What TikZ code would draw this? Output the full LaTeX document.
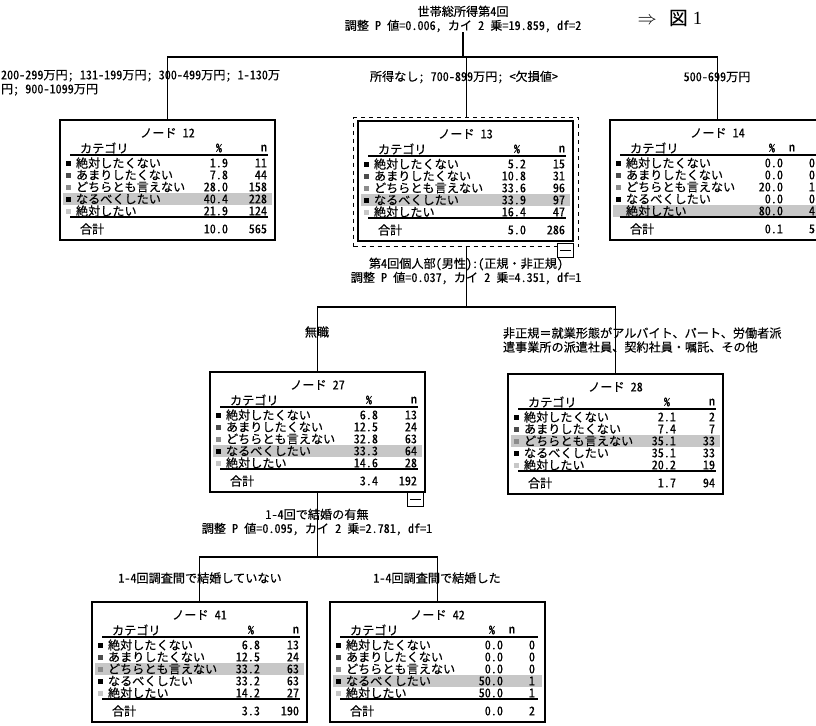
\documentclass[tikz,border=0pt]{standalone}
\usepackage{fontspec}
\setmainfont{Noto Sans CJK JP}[RawFeature=+hwid, FakeBold=0.3]
\newfontfamily\jpprop{Noto Sans CJK JP}[FakeBold=0.3]
\newfontfamily\lserif{Liberation Serif}
\usetikzlibrary{calc}
\colorlet{sqc1}{black}
\colorlet{sqc2}{black!70}
\colorlet{sqc3}{black!45}
\colorlet{sqc4}{black}
\colorlet{sqc5}{black!22}
\tikzset{
  tx/.style={font=\fontsize{9.1}{10.5}\selectfont, inner sep=0pt, outer sep=0pt},
  boxs/.style={draw, line width=1.1pt, inner sep=0pt, outer sep=0pt, anchor=north west},
  conn/.style={line width=0.9pt},
  rulel/.style={line width=0.8pt},
  hlrow/.style={fill=black!22},
  minusbox/.style={draw, line width=0.8pt, fill=white, inner sep=0pt, minimum width=12pt, minimum height=10.5pt, anchor=north east},
}
\def\tw{215}\def\pcx{168}\def\ncx{207}\def\nhx{207}\def\phx{162}
% #1 name #2 L #3 T #4 number #5 rows #6 highlighted row #7 total % #8 total n
\newcommand\spsstable[8]{%
  \foreach \p/\n [count=\i] in {#5} {
    \pgfmathsetmacro\ry{#3+43+(\i-1)*12}
    \ifnum\i=#6\relax
      \fill[hlrow] (#2+3,\ry-5.8) rectangle (#2+\tw-3,\ry+5.8);
    \fi
    \fill[fill=sqc\i] (#2+6,\ry-2.5) rectangle (#2+11,\ry+2.5);
    \node[tx, anchor=west] (#1-c\i) at (#2+16,\ry) {\ifcase\i\or 絶対したくない\or あまりしたくない\or どちらとも言えない\or なるべくしたい\or 絶対したい\fi};
    \node[tx, anchor=east] (#1-p\i) at (#2+\pcx,\ry) {\p};
    \node[tx, anchor=east] (#1-n\i) at (#2+\ncx,\ry) {\n};
  }
  \node[boxs, minimum width={\tw*0.75pt}, minimum height={120*0.75pt}] (#1) at (#2,#3) {};
  \node[tx] (#1-ttl) at (#2+\tw/2,#3+13) {ノード #4};
  \node[tx, anchor=west] (#1-hc) at (#2+20,#3+28) {カテゴリ};
  \node[tx, anchor=east] (#1-hp) at (#2+\phx,#3+28) {\%};
  \node[tx, anchor=east] (#1-hn) at (#2+\nhx,#3+28) {n};
  \draw[rulel] (#2+10,#3+35) -- (#2+\tw-7,#3+35);
  \draw[rulel] (#2+10,#3+97) -- (#2+\tw-7,#3+97);
  \node[tx, anchor=west] (#1-tc) at (#2+20,#3+109) {合計};
  \node[tx, anchor=east] (#1-tp) at (#2+\pcx,#3+109) {#7};
  \node[tx, anchor=east] (#1-tn) at (#2+\ncx,#3+109) {#8};
}
\begin{document}
\begin{tikzpicture}[x=0.75pt, y=-0.75pt]
\useasboundingbox (0,0) rectangle (816,725);
\clip (0,0) rectangle (816,725);
\fill[white] (0,0) rectangle (816,725);

% root split text
\node[tx, align=center] (root) at (463,19) {世帯総所得第4回\\調整 P 値=0.006, カイ 2 乗=19.859, df=2};
\node[inner sep=0pt] (fig) at (670,18) {\fontsize{14}{16}\selectfont$\Rightarrow$\hspace{9pt}{\jpprop\mdseries 図}\hspace{4pt}{\lserif 1}};

% level 1 nodes
\spsstable{n12}{60}{120}{12}{1.9/11, 7.8/44, 28.0/158, 40.4/228, 21.9/124}{4}{10.0}{565}
\node[draw, dashed, line width=1.1pt, inner sep=0pt, anchor=north west, minimum width={225*0.75pt}, minimum height={129*0.75pt}] (n13sel) at (353,117) {};
\spsstable{n13}{358}{121}{13}{5.2/15, 10.8/31, 33.6/96, 33.9/97, 16.4/47}{4}{5.0}{286}
\node[minusbox] (m13) at (574,243) {};
\draw[line width=0.8pt] ($(m13.west)+(3,0)$) -- ($(m13.east)+(-3,0)$);
\begingroup
\def\pcx{173}\def\phx{165}\def\nhx{185}\def\ncx{205}
\spsstable{n14}{610}{120}{14}{0.0/0, 0.0/0, 20.0/1, 0.0/0, 80.0/4}{5}{0.1}{5}
\endgroup

% level 2 nodes
\spsstable{n27}{210}{372}{27}{6.8/13, 12.5/24, 32.8/63, 33.3/64, 14.6/28}{4}{3.4}{192}
\node[minusbox] (m27) at (424,492) {};
\draw[line width=0.8pt] ($(m27.west)+(3,0)$) -- ($(m27.east)+(-3,0)$);
\spsstable{n28}{508}{374}{28}{2.1/2, 7.4/7, 35.1/33, 35.1/33, 20.2/19}{3}{1.7}{94}

% level 3 nodes
\spsstable{n41}{92}{602}{41}{6.8/13, 12.5/24, 33.2/63, 33.2/63, 14.2/27}{3}{3.3}{190}
\begingroup
\def\pcx{173}\def\phx{165}\def\nhx{185}\def\ncx{205}
\spsstable{n42}{330}{602}{42}{0.0/0, 0.0/0, 0.0/0, 50.0/1, 50.0/1}{4}{0.0}{2}
\endgroup

% connectors
\coordinate (h1) at (463,57);
\coordinate (h2) at (463,307);
\coordinate (h3) at (317,557);
\draw[conn] (root.south) -- (root.south |- h1);
\draw[conn] (n12.north) -- (n12.north |- h1) -- (n14.north |- h1) -- (n14.north);
\draw[conn] (n13sel.north |- h1) -- (n13sel.north);
\draw[conn] (n13sel.south) -- (n13sel.south |- h2);
\draw[conn] (n27.north) -- (n27.north |- h2) -- (n28.north |- h2) -- (n28.north);
\draw[conn] (n27.south) -- (n27.south |- h3);
\draw[conn] (n41.north) -- (n41.north |- h3) -- (n42.north |- h3) -- (n42.north);

% branch labels
\node[tx, align=left, anchor=north west] (lab12) at (1,70) {200-299万円; 131-199万円; 300-499万円; 1-130万\\円; 900-1099万円};
\node[tx] (lab13) at (464,77) {所得なし; 700-899万円; <欠損値>};
\node[tx] (lab14) at (717,77) {500-699万円};
\node[tx, align=center] (sp13) at (466,271) {第4回個人部(男性):(正規・非正規)\\調整 P 値=0.037, カイ 2 乗=4.351, df=1};
\node[tx] (lab27) at (317,332) {無職};
\node[tx, align=left, anchor=west] (lab28) at (503,340) {非正規{\jpprop ＝}就業形態がアルバイト、パート、労働者派\\遣事業所の派遣社員、契約社員・嘱託、その他};
\node[tx, align=center] (sp27) at (317,522) {1-4回で結婚の有無\\調整 P 値=0.095, カイ 2 乗=2.781, df=1};
\node[tx] (lab41) at (200,578) {1-4回調査間で結婚していない};
\node[tx] (lab42) at (437,578) {1-4回調査間で結婚した};
\end{tikzpicture}
\end{document}
